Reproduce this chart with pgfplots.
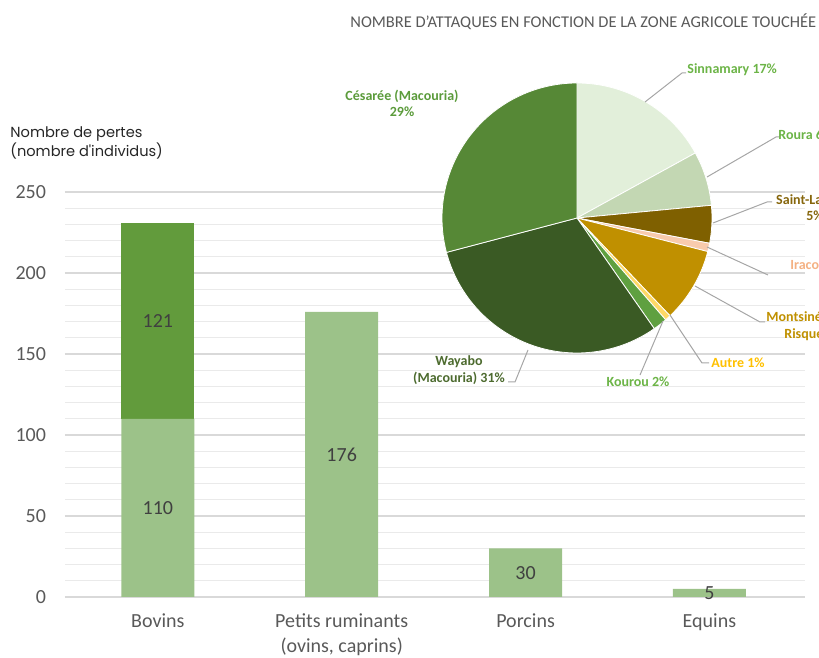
\documentclass[border=0pt]{standalone}
\usepackage{pgfplots}
\pgfplotsset{compat=1.18}
\usepackage{fontspec}
\setmainfont{Carlito}
\newfontfamily\pop{Poppins}

\definecolor{barlight}{HTML}{9CC289}
\definecolor{bardark}{HTML}{629B3C}
\definecolor{gridmaj}{HTML}{D9D9D9}
\definecolor{gridmin}{HTML}{EAEAEA}
\definecolor{axisc}{HTML}{C8C8C8}
\definecolor{tickc}{HTML}{595959}
\definecolor{valc}{HTML}{404040}
\definecolor{leadc}{HTML}{A6A6A6}
% pie slices
\definecolor{pSin}{HTML}{E2EFDA}
\definecolor{pRou}{HTML}{C3D7B3}
\definecolor{pStL}{HTML}{7F6000}
\definecolor{pIra}{HTML}{F8CBAD}
\definecolor{pMon}{HTML}{C09000}
\definecolor{pAut}{HTML}{FFD966}
\definecolor{pKou}{HTML}{5FA040}
\definecolor{pWay}{HTML}{3A5A24}
\definecolor{pCes}{HTML}{568836}
% pie labels
\definecolor{lGreen}{HTML}{6CB447}
\definecolor{lStL}{HTML}{86660C}
\definecolor{lIra}{HTML}{F4B183}
\definecolor{lMon}{HTML}{BF9000}
\definecolor{lAut}{HTML}{FFC000}
\definecolor{lWay}{HTML}{4D6B2F}
\definecolor{lCes}{HTML}{5B9B3B}

\begin{document}
\begin{tikzpicture}[x=0.5pt,y=0.5pt,
  lead/.style={draw=leadc, line width=0.5pt},
  plab/.style={font=\bfseries\fontsize{7}{8.3}\selectfont, inner sep=0pt, align=center},
  vlab/.style={text=valc, font=\fontsize{10}{12}\selectfont}]
\useasboundingbox (0,0) rectangle (819,658);

\begin{axis}[
  at={(32.5pt,30.5pt)}, anchor=south west,
  scale only axis, width=370pt, height=202.5pt,
  xmin=-0.505, xmax=3.52, ymin=0, ymax=250,
  ybar stacked, bar width=36.5pt,
  axis line style={draw=none},
  tick style={draw=none},
  ytick={0,50,...,250}, minor y tick num=4,
  ymajorgrids, yminorgrids,
  major grid style={color=gridmaj, line width=0.6pt},
  minor grid style={color=gridmin, line width=0.6pt},
  extra y ticks={0}, extra y tick labels={},
  extra y tick style={grid style={color=axisc, line width=0.8pt}},
  xtick={0,1,2,3},
  xticklabels={Bovins, {Petits ruminants\\(ovins, caprins)}, Porcins, Equins},
  xticklabel style={align=center, font=\fontsize{10}{12.5}\selectfont, text=tickc, anchor=north, yshift=-5pt},
  yticklabel style={font=\fontsize{10}{12}\selectfont, text=tickc, xshift=-6pt},
  /pgf/number format/assume math mode=true,
  clip=false,
]
\addplot[fill=barlight, draw=none] coordinates {(0,110) (1,176) (2,30) (3,5)};
\addplot[fill=bardark, draw=none] coordinates {(0,121) (1,0) (2,0) (3,0)};

\coordinate (v1) at (axis cs:0,55);
\coordinate (v2) at (axis cs:0,170.5);
\coordinate (v3) at (axis cs:1,88);
\coordinate (v4) at (axis cs:2,15);
\coordinate (v5) at (axis cs:3,2.5);
\end{axis}

% bar value labels, on top of the bars
\node[vlab] at (v1) {110};
\node[vlab] at (v2) {121};
\node[vlab] at (v3) {176};
\node[vlab] at (v4) {30};
\node[vlab] at (v5) {5};

% y axis label
\node[anchor=west, align=left, inner sep=0pt, text=black!85,
  font=\pop\fontsize{7.3}{9.5}\selectfont] at (10,515.5)
  {Nombre de pertes\\(nombre d'individus)};

% pie title
\node[anchor=west, inner sep=0pt, text=tickc, font=\fontsize{8.22}{10}\selectfont]
  at (350,636) {NOMBRE D'ATTAQUES EN FONCTION DE LA ZONE AGRICOLE TOUCHÉE};

% pie: shares in percent, clockwise from the top
\xdef\ang{90}
\foreach \v/\c in {17.0/pSin, 6.5/pRou, 4.5/pStL, 1.0/pIra, 8.9/pMon,
                   0.7/pAut, 1.7/pKou, 30.6/pWay, 29.1/pCes} {
  \pgfmathsetmacro\angB{\ang-\v*3.6}
  \fill[\c, draw=white, line width=0.4pt] (577,440) -- ++(\ang:135)
    arc[start angle=\ang, end angle=\angB, radius=135] -- cycle;
  \xdef\ang{\angB}
}

% leader lines
\draw[lead] (645,556) -- (682,585) -- (686,585);
\draw[lead] (707,481) -- (776,521) -- (779,521);
\draw[lead] (713,435) -- (767,456) -- (772,456);
\draw[lead] (707,411) -- (768,383);
\draw[lead] (695,372) -- (760,336) -- (765,336);
\draw[lead] (670,343) -- (702,295) -- (709,295);
\draw[lead] (663,337) -- (640,283);
\draw[lead] (528,308) -- (515,276) -- (508,276);

% pie labels
\node[plab, text=lCes] at (402,554.5) {Césarée (Macouria)\\29\%};
\node[plab, text=lGreen, anchor=west] at (687,588) {Sinnamary 17\%};
\node[plab, text=lGreen, anchor=west] at (778,523) {Roura 6\%};
\node[plab, text=lStL] at (815,450.5) {Saint-Laurent\\5\%};
\node[plab, text=lIra, anchor=west] at (790,393) {Iracoubo 1\%};
\node[plab, text=lMon, anchor=west] at (766,340) {Montsinéry};
\node[plab, text=lMon, anchor=west] at (784,323) {Risquetout 9\%};
\node[plab, text=lAut, anchor=west] at (711,295) {Autre 1\%};
\node[plab, text=lGreen] at (638,276) {Kourou 2\%};
\node[plab, text=lWay] at (459,288) {Wayabo\\(Macouria) 31\%};
\end{tikzpicture}
\end{document}
